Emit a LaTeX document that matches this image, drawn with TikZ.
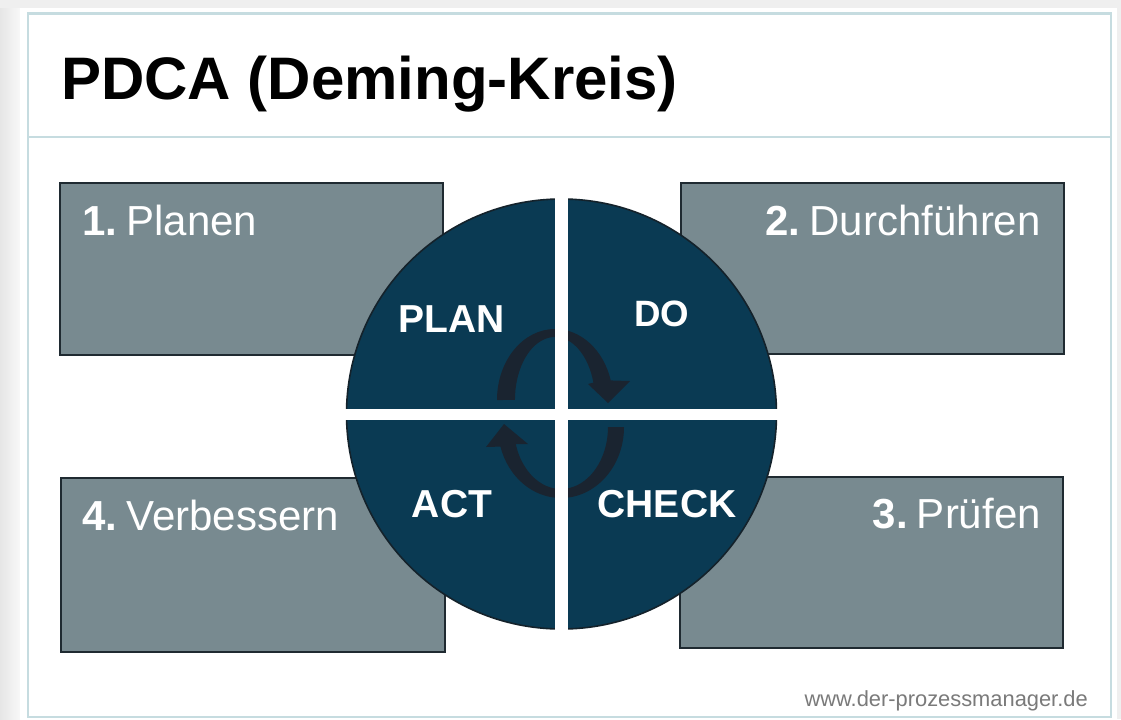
\documentclass[tikz,border=0pt]{standalone}
\usepackage{fontspec}
\setmainfont{Liberation Sans}
\definecolor{bgout}{HTML}{EFEFEF}
\definecolor{shadowc}{HTML}{E6E6E6}
\definecolor{shadowr}{HTML}{F8F8F8}
\definecolor{framec}{HTML}{C6DCE0}
\definecolor{boxfill}{HTML}{788A90}
\definecolor{boxline}{HTML}{1F2A31}
\definecolor{circfill}{HTML}{0A3A53}
\definecolor{circline}{HTML}{14222B}
\definecolor{arrowc}{HTML}{1A2430}
\definecolor{markc}{HTML}{7A7A7A}
\tikzset{
  panel/.style={fill=boxfill, draw=boxline, line width=1.5pt},
  frameline/.style={draw=framec, line width=1.6pt},
  boxlabel/.style={inner sep=0pt, text=white, font=\fontsize{31.5}{36}\selectfont},
  quadlabel/.style={inner sep=0pt, text=white, font=\fontsize{29.25}{34}\selectfont\bfseries},
}
\begin{document}
\begin{tikzpicture}[x=0.75pt,y=-0.75pt]
\useasboundingbox (0,0) rectangle (1121,719);
% page background and shadow
\fill[bgout] (0,0) rectangle (1121,719);
\shade[left color=shadowc, right color=shadowr] (0,8) rectangle (20,719);
\fill[white] (20,8) rectangle (1117,719);
% frame
\draw[frameline] (28,13.5) rectangle (1111,717);
\draw[frameline] (28,137) -- (1111,137);
% title
\node[inner sep=0pt, anchor=base west, font=\fontsize{45}{52}\selectfont\bfseries] (title) at (61,99) {PDCA (Deming-Kreis)};
% boxes
\draw[panel] (60,183) rectangle (443,355);
\draw[panel] (681,183) rectangle (1064,354);
\draw[panel] (61,478) rectangle (445,652);
\draw[panel] (680,477) rectangle (1063,648);
\node[boxlabel, anchor=base west] (l1) at (82,235) {\textbf{1.}\hspace{0.22em}Planen};
\node[boxlabel, anchor=base east] (l2) at (1041,235) {\textbf{2.}\hspace{0.22em}Durchführen};
\node[boxlabel, anchor=base west] (l4) at (82,530) {\textbf{4.}\hspace{0.22em}Verbessern};
\node[boxlabel, anchor=base east] (l3) at (1041,528) {\textbf{3.}\hspace{0.22em}Prüfen};
% circle
\filldraw[fill=circfill, draw=circline, line width=1.2pt] (561.5,414) circle[radius=215];
% cycle arrows
\fill[arrowc] (497,400) arc[start angle=180, end angle=344, x radius=58, y radius=71]
  -- (630,381) -- (608,403) -- (588,384) -- (593.4,382.6)
  arc[start angle=344, end angle=180, x radius=40, y radius=63] -- cycle;
\fill[arrowc] (624,427) arc[start angle=0, end angle=164, x radius=63, y radius=71]
  -- (486,447) -- (504,424) -- (528,444) -- (515.8,444.1)
  arc[start angle=164, end angle=0, x radius=47, y radius=62] -- cycle;
% white cross gaps
\fill[white] (555,195) rectangle (568,634);
\fill[white] (340,409) rectangle (783,420);
% quadrant labels
\node[quadlabel, anchor=base] (plan) at (452,332) {PLAN};
\node[quadlabel, anchor=base, font=\fontsize{27.5}{32}\selectfont\bfseries] (do) at (662,326) {DO};
\node[quadlabel, anchor=base] (act) at (452,517) {ACT};
\node[quadlabel, anchor=base] (check) at (667,517) {CHECK};
% watermark
\node[inner sep=0pt, anchor=base east, text=markc, font=\fontsize{16.4}{19}\selectfont] (mark) at (1088,706) {www.der-prozessmanager.de};
\end{tikzpicture}
\end{document}
